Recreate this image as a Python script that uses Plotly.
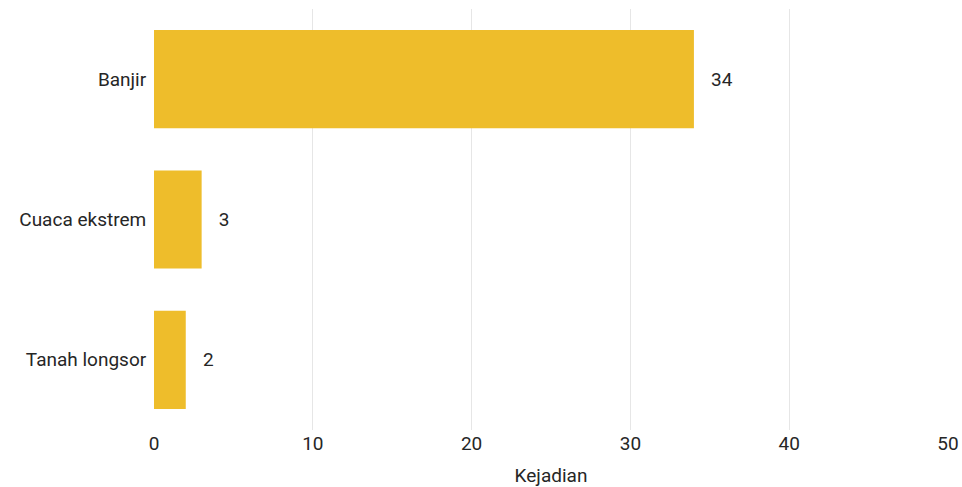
import plotly.graph_objects as go

categories = ["Banjir", "Cuaca ekstrem", "Tanah longsor"]
values = [34, 3, 2]
x_ticks = [0, 10, 20, 30, 40, 50]
x_title = "Kejadian"

fig = go.Figure(go.Bar(
    x=values,
    y=categories,
    orientation="h",
    marker=dict(color="#EEBD2B", line=dict(width=0)),
    text=[f"   {v}" for v in values],
    textposition="outside",
    textfont=dict(family="Roboto", size=19, color="#262626"),
    cliponaxis=False,
))

fig.update_layout(
    width=962, height=487,
    margin=dict(l=154, r=14, t=9, b=57),
    paper_bgcolor="white",
    plot_bgcolor="white",
    bargap=0.3,
    showlegend=False,
    font=dict(family="Roboto", size=19, color="#262626"),
    xaxis=dict(
        range=[0, 50],
        tickvals=x_ticks,
        automargin=False,
        showgrid=True,
        gridcolor="#E6E6E6",
        gridwidth=1,
        zeroline=False,
        showline=False,
        ticks="",
        title=dict(text=x_title, font=dict(size=19), standoff=16),
    ),
    yaxis=dict(
        categoryorder="array",
        categoryarray=categories[::-1],
        automargin=False,
        showgrid=False,
        zeroline=False,
        showline=False,
        ticks="outside", ticklen=3, tickcolor="rgba(0,0,0,0)",
    ),
)

fig.write_html("out.html")
